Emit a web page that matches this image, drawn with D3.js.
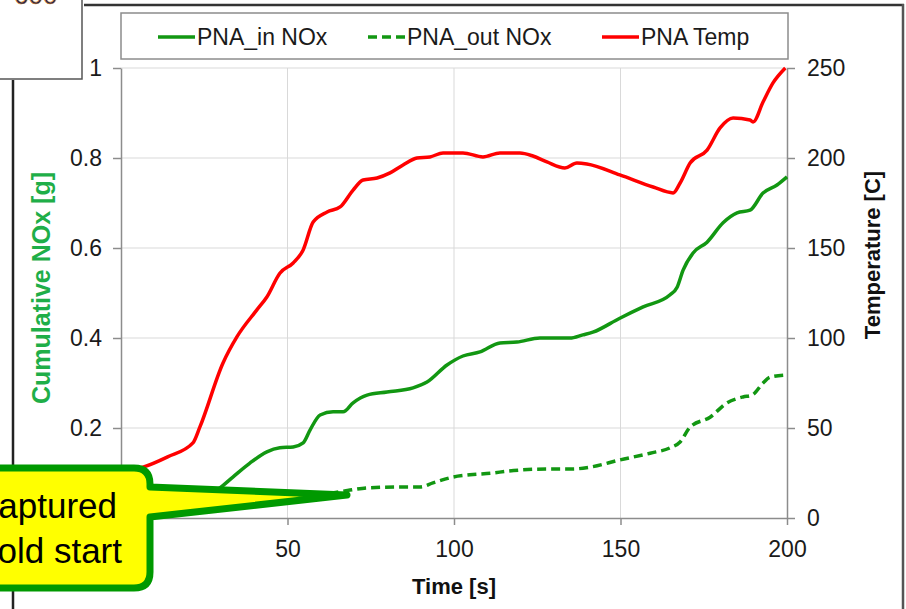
<!DOCTYPE html>
<html>
<head>
<meta charset="utf-8">
<script src="https://cdn.jsdelivr.net/npm/d3@7"></script>
<style>
  html, body { margin: 0; padding: 0; background: #fff; }
  svg { display: block; font-family: "Liberation Sans", Arial, sans-serif; }
  .axis path, .axis line { stroke: #8c8c8c; stroke-width: 1.5; }
  .axis text { fill: #1a1a1a; font-size: 23px; }
  .grid line { stroke: #d9d9d9; stroke-width: 1; }
</style>
</head>
<body>
<div id="chart"></div>
<script>
// PNA cumulative NOx (left axis, g) and PNA temperature (right axis, C) vs time [s]
const tempTime = [0, 6.6, 14, 21.6, 23.7, 30.6, 34.8, 40.8, 43.8, 47.7, 51.7, 54.7, 57.7, 61.9, 65.8, 69.7, 72.7, 76.9, 80.8, 84.7, 88.9, 92.8, 96.7, 102.7, 108.7, 113.8, 119.8, 123.7, 127.9, 133.3, 136.9, 139.9, 149.8, 159.8, 165.8, 167.9, 170.9, 176, 179.9, 183.8, 188.9, 189.8, 192.8, 195.8, 199.5];
const tempVals = [26, 28.3, 34, 41.7, 50.6, 86, 100.6, 115.6, 122.8, 136, 141.7, 148.9, 164.4, 170, 172.8, 182.2, 187.8, 188.9, 191.7, 196.1, 200, 200.6, 202.8, 202.8, 200.6, 202.8, 202.8, 201.1, 197.8, 194.4, 197.2, 196.7, 190.6, 183.9, 180.6, 186.1, 197.2, 204.4, 216.7, 222.2, 221.1, 220, 231.1, 241.7, 250];

const inTime = [0, 10, 20, 27, 29.7, 33.6, 38.7, 43.8, 47.7, 51.7, 54.7, 56.8, 59.8, 63.7, 66.7, 69.7, 73.9, 79.9, 87.7, 91.9, 97.9, 102.7, 107.8, 113.8, 118.9, 125.8, 134.8, 138.7, 141.7, 149.8, 156.8, 164.9, 167, 168.8, 171.8, 176, 180.8, 185, 188.9, 192.8, 197, 200];
const inVals = [0, 0.005, 0.025, 0.055, 0.067, 0.091, 0.122, 0.147, 0.156, 0.158, 0.167, 0.196, 0.229, 0.236, 0.236, 0.256, 0.273, 0.28, 0.289, 0.302, 0.34, 0.36, 0.369, 0.389, 0.391, 0.4, 0.4, 0.407, 0.413, 0.444, 0.469, 0.496, 0.513, 0.551, 0.589, 0.613, 0.656, 0.678, 0.684, 0.722, 0.74, 0.758];

const outTime = [0, 20, 40, 55, 68.8, 73.9, 83.8, 89.8, 93.7, 99.7, 104.8, 111.7, 115.9, 128.8, 135.7, 140.8, 149.8, 158.9, 164.9, 167.9, 170.9, 176.9, 182, 186.8, 189.5, 192.8, 194.9, 200];
const outVals = [0, 0.015, 0.03, 0.045, 0.062, 0.067, 0.069, 0.069, 0.078, 0.091, 0.096, 0.1, 0.104, 0.109, 0.109, 0.113, 0.129, 0.144, 0.156, 0.169, 0.202, 0.224, 0.256, 0.269, 0.273, 0.3, 0.313, 0.318];

const timeTicks = [0, 50, 100, 150, 200];
const noxTicks = [0, 0.2, 0.4, 0.6, 0.8, 1];
const tempTicks = [0, 50, 100, 150, 200, 250];

const legendItems = [
  {label: 'PNA_in NOx', color: '#129712', dash: null, x: 158},
  {label: 'PNA_out NOx', color: '#129712', dash: '9,5', x: 368},
  {label: 'PNA Temp', color: '#ff0000', dash: null, x: 602}
];

const width = 906, height = 609;
const svg = d3.select('#chart').append('svg').attr('width', width).attr('height', height);

const x = d3.scaleLinear().domain([0, 200]).range([121, 787]);
const yL = d3.scaleLinear().domain([0, 1]).range([518, 68]);
const yR = d3.scaleLinear().domain([0, 250]).range([518, 68]);

// slide frame bits around the chart
svg.append('line').attr('x1', 84).attr('x2', 904).attr('y1', 5).attr('y2', 5)
  .attr('stroke', '#333').attr('stroke-width', 2.5);
svg.append('line').attr('x1', 903).attr('x2', 903).attr('y1', 4).attr('y2', height)
  .attr('stroke', '#555').attr('stroke-width', 2.5);
svg.append('line').attr('x1', 13).attr('x2', 13).attr('y1', 80).attr('y2', height)
  .attr('stroke', '#222').attr('stroke-width', 2.5);
svg.append('rect').attr('x', -2).attr('y', -2).attr('width', 84).attr('height', 81)
  .attr('fill', '#fff').attr('stroke', '#555').attr('stroke-width', 1.5);
svg.append('text').attr('x', 14).attr('y', 4).attr('font-size', 26)
  .attr('fill', '#1b2550').attr('stroke', '#e08a1e').attr('stroke-width', 0.6)
  .text('600');

// grid
const grid = svg.append('g').attr('class', 'grid');
grid.selectAll('.h').data(noxTicks.filter(d => d > 0)).enter().append('line')
  .attr('x1', x(0)).attr('x2', x(200)).attr('y1', d => yL(d)).attr('y2', d => yL(d));
grid.selectAll('.v').data(timeTicks.filter(d => d > 0 && d < 200)).enter().append('line')
  .attr('x1', d => x(d)).attr('x2', d => x(d)).attr('y1', yL(1)).attr('y2', yL(0));

// axes
const fmtNox = d => d === 0 || d === 1 ? String(d) : d.toFixed(1);
svg.append('g').attr('class', 'axis').attr('transform', `translate(${x(0)},0)`)
  .call(d3.axisLeft(yL).tickValues(noxTicks).tickFormat(fmtNox).tickSize(8).tickPadding(11).tickSizeOuter(0));
svg.append('g').attr('class', 'axis').attr('transform', `translate(${x(200)},0)`)
  .call(d3.axisRight(yR).tickValues(tempTicks).tickSize(8).tickPadding(12).tickSizeOuter(0));
svg.append('g').attr('class', 'axis').attr('transform', `translate(0,${yL(0)})`)
  .call(d3.axisBottom(x).tickValues(timeTicks).tickSize(7).tickPadding(16).tickSizeOuter(0));
svg.selectAll('.axis .domain').attr('stroke', '#8c8c8c');

// axis titles
svg.append('text').attr('transform', 'translate(50,288) rotate(-90)')
  .attr('text-anchor', 'middle').attr('font-size', 25).attr('font-weight', 'bold')
  .attr('fill', '#1fae48').text('Cumulative NOx [g]');
svg.append('text').attr('transform', 'translate(880,255) rotate(-90)')
  .attr('text-anchor', 'middle').attr('font-size', 22).attr('font-weight', 'bold')
  .attr('fill', '#111').text('Temperature [C]');
svg.append('text').attr('x', 454).attr('y', 594)
  .attr('text-anchor', 'middle').attr('font-size', 22).attr('font-weight', 'bold')
  .attr('fill', '#111').text('Time [s]');

// lines
const lineOf = (ts, vs, yScale) => d3.line().curve(d3.curveMonotoneX)
  .x((d, i) => x(ts[i])).y(d => yScale(d))(vs);

svg.append('path').attr('d', lineOf(tempTime, tempVals, yR))
  .attr('fill', 'none').attr('stroke', '#ff0000').attr('stroke-width', 3.5).attr('stroke-linejoin', 'round');
svg.append('path').attr('d', lineOf(inTime, inVals, yL))
  .attr('fill', 'none').attr('stroke', '#129712').attr('stroke-width', 3.5).attr('stroke-linejoin', 'round');
svg.append('path').attr('d', lineOf(outTime, outVals, yL))
  .attr('fill', 'none').attr('stroke', '#129712').attr('stroke-width', 3.5).attr('stroke-dasharray', '9,5');

// legend
const legend = svg.append('g');
legend.append('rect').attr('x', 121).attr('y', 13).attr('width', 667).attr('height', 46)
  .attr('fill', '#fff').attr('stroke', '#8c8c8c').attr('stroke-width', 1.5);
const li = legend.selectAll('.item').data(legendItems).enter().append('g');
li.append('line').attr('x1', d => d.x).attr('x2', d => d.x + 37).attr('y1', 37).attr('y2', 37)
  .attr('stroke', d => d.color).attr('stroke-width', 3.5)
  .attr('stroke-dasharray', d => d.dash);
li.append('text').attr('x', d => d.x + 39).attr('y', 45).attr('font-size', 23)
  .attr('fill', '#1a1a1a').text(d => d.label);

// callout
const callout = svg.append('g');
callout.append('path')
  .attr('d', 'M-60,468 H134 Q150,468 150,484 L150,487 L347,495 L150,517 V572 Q150,588 134,588 H-60 Z')
  .attr('fill', '#ffff00').attr('stroke', '#009900').attr('stroke-width', 7).attr('stroke-linejoin', 'round');
callout.append('text').attr('x', 117).attr('y', 518).attr('text-anchor', 'end')
  .attr('font-size', 35).attr('fill', '#000').text('Captured');
callout.append('text').attr('x', 122).attr('y', 563).attr('text-anchor', 'end')
  .attr('font-size', 35).attr('fill', '#000').text('cold start');
</script>
</body>
</html>
